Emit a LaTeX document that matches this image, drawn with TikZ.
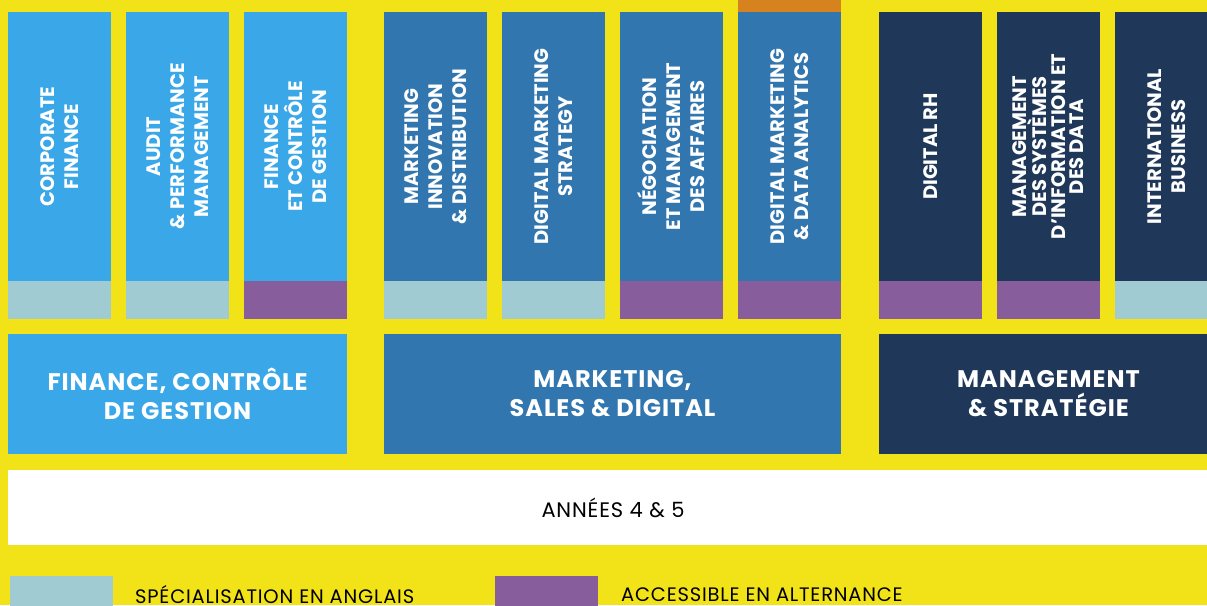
\documentclass[tikz,border=0pt]{standalone}
\usepackage{fontspec}
\setmainfont{Poppins}
\newfontfamily\widefont[LetterSpace=4]{Poppins}
\usepackage{tikz}
\usetikzlibrary{positioning}
\definecolor{bgyellow}{RGB}{242,227,24}
\definecolor{financecolor}{RGB}{57,167,232}
\definecolor{marketingcolor}{RGB}{49,118,175}
\definecolor{managementcolor}{RGB}{31,56,89}
\definecolor{englishcolor}{RGB}{161,203,210}
\definecolor{alternancecolor}{RGB}{136,93,155}
\definecolor{newcolor}{RGB}{214,131,31}

\tikzset{
  spec/.style={rotate=90, minimum width=269pt, minimum height=103pt, inner sep=0pt,
    align=center, text=white, font=\bfseries\fontsize{19.5}{24}\selectfont},
  tag/.style={minimum width=103pt, minimum height=38pt, inner sep=0pt},
  group/.style={minimum height=120pt, inner sep=0pt, align=center, text=white,
    font=\widefont\bfseries\fontsize{24}{29}\selectfont},
  legendtext/.style={anchor=west, inner sep=0pt, font=\widefont\fontsize{19.5}{22}\selectfont}
}

\begin{document}
\begin{tikzpicture}[x=1pt, y=-1pt]
    % Background
    \useasboundingbox (0,0) rectangle (1207,605);
    \fill[bgyellow] (0,0) rectangle (1207,605);

    % Finance specialisations
    \node[spec, fill=financecolor] (corporate) at (59.5,146.5) {CORPORATE\\FINANCE};
    \node[spec, fill=financecolor] (audit) at (177.5,146.5) {AUDIT\\\& PERFORMANCE\\MANAGEMENT};
    \node[spec, fill=financecolor] (controle) at (295.5,146.5) {FINANCE\\ET CONTRÔLE\\DE GESTION};
    \node[tag, fill=englishcolor] (corporatetag) at (59.5,300) {};
    \node[tag, fill=englishcolor] (audittag) at (177.5,300) {};
    \node[tag, fill=alternancecolor] (controletag) at (295.5,300) {};

    % Marketing specialisations
    \node[spec, fill=marketingcolor] (innovation) at (435.5,146.5) {MARKETING\\INNOVATION\\\& DISTRIBUTION};
    \node[spec, fill=marketingcolor] (strategy) at (553.5,146.5) {DIGITAL MARKETING\\STRATEGY};
    \node[spec, fill=marketingcolor] (negociation) at (671.5,146.5) {NÉGOCIATION\\ET MANAGEMENT\\DES AFFAIRES};
    \node[spec, fill=marketingcolor] (analytics) at (789.5,146.5) {DIGITAL MARKETING\\\& DATA ANALYTICS};
    \node[minimum width=103pt, minimum height=12pt, inner sep=0pt, fill=newcolor] (analyticsnew) at (789.5,6) {};
    \node[tag, fill=englishcolor] (innovationtag) at (435.5,300) {};
    \node[tag, fill=englishcolor] (strategytag) at (553.5,300) {};
    \node[tag, fill=alternancecolor] (negociationtag) at (671.5,300) {};
    \node[tag, fill=alternancecolor] (analyticstag) at (789.5,300) {};

    % Management specialisations
    \node[spec, fill=managementcolor] (rh) at (930.5,146.5) {DIGITAL RH};
    \node[spec, fill=managementcolor, font=\bfseries\fontsize{19.5}{18.5}\selectfont] (si) at (1048.5,146.5) {MANAGEMENT\\DES SYSTÈMES\\D’INFORMATION ET\\DES DATA};
    \node[spec, fill=managementcolor] (business) at (1166.5,146.5) {INTERNATIONAL\\BUSINESS};
    \node[tag, fill=alternancecolor] (rhtag) at (930.5,300) {};
    \node[tag, fill=alternancecolor] (sitag) at (1048.5,300) {};
    \node[tag, fill=englishcolor] (businesstag) at (1166.5,300) {};

    % Groups
    \node[group, fill=financecolor, minimum width=339pt] (finance) at (177.5,394) {FINANCE, CONTRÔLE\\DE GESTION};
    \node[group, fill=marketingcolor, minimum width=457pt] (marketing) at (612.5,394) {MARKETING,\\SALES \& DIGITAL};
    \node[group, fill=managementcolor, minimum width=339pt] (management) at (1048.5,394) {MANAGEMENT\\\& STRATÉGIE};

    % Years
    \node[fill=white, minimum width=1210pt, minimum height=75pt, inner sep=0pt,
      font=\widefont\fontsize{21}{24}\selectfont] (annees) at (613,507.5) {ANNÉES 4 \& 5};

    % Legend
    \node[tag, fill=englishcolor] (legendenglish) at (61.5,595) {};
    \node[legendtext] (legendenglishtext) at (135,595) {SPÉCIALISATION EN ANGLAIS};
    \node[tag, fill=alternancecolor] (legendalternance) at (546.5,595) {};
    \node[legendtext] (legendalternancetext) at (621,595) {ACCESSIBLE EN ALTERNANCE};
\end{tikzpicture}
\end{document}
